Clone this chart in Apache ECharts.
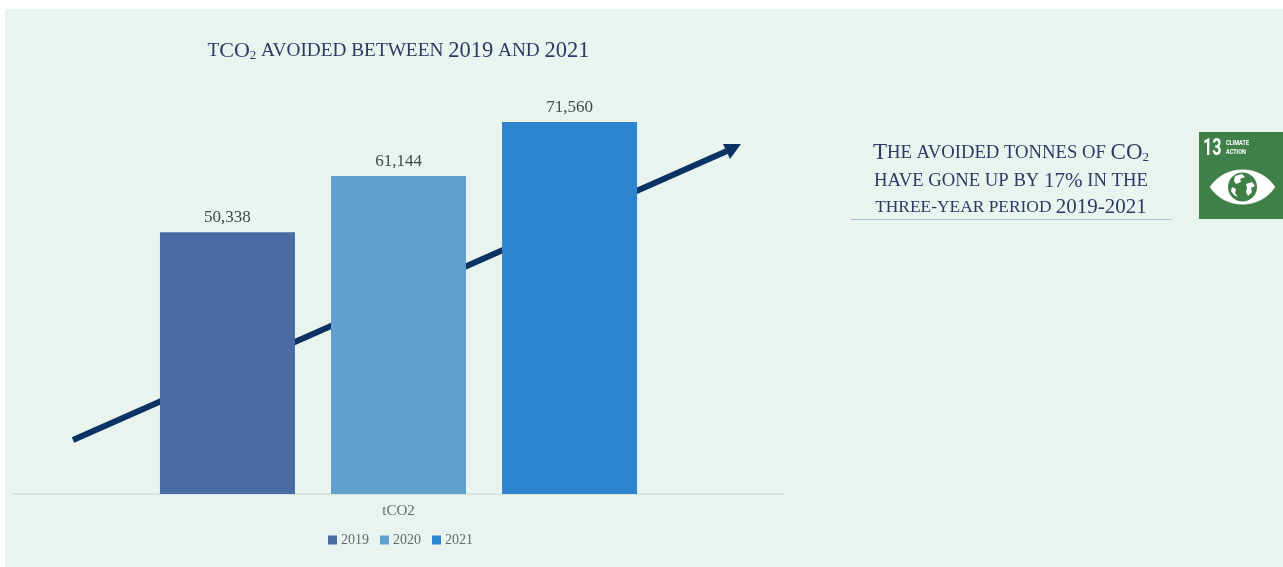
<!DOCTYPE html>
<html>
<head>
<meta charset="utf-8">
<title>tCO2 avoided between 2019 and 2021</title>
<script src="https://cdn.jsdelivr.net/npm/echarts@6/dist/echarts.min.js"></script>
<style>
  html, body { margin: 0; padding: 0; background: #ffffff; }
  #panel { position: absolute; left: 5px; top: 9px; width: 1278px; height: 558px; background: #eaf4ef; }
  #chart { position: absolute; left: 0; top: 0; width: 1283px; height: 567px; }
</style>
</head>
<body>
<div id="panel"></div>
<div id="chart"></div>
<script>
const categories = ['tCO2'];
const years = ['2019', '2020', '2021'];
const avoided2019 = [50338];
const avoided2020 = [61144];
const avoided2021 = [71560];
const yearValues = [avoided2019, avoided2020, avoided2021];
const yearColors = ['#4a6ca5', '#60a0cc', '#2e84cf'];

const serif = '"Liberation Serif", serif';
const narrow = '"Liberation Sans Narrow", Roboto, sans-serif';
const navy = '#2c3a63';

// Small-caps headings are composed of rich-text runs: b = full caps, s = small caps, d = digits, u = subscript
const smallCapsStyles = (big, small, digit, sub) => {
  const run = (size, extra) => Object.assign({
    fontFamily: serif, fontSize: size, fill: navy, color: navy, lineHeight: 28
  }, extra);
  return {
    b: run(big),
    s: run(small),
    d: run(digit),
    u: run(sub, { padding: [9, 0, 0, 0] })
  };
};

const titleText = '{s|T}{b|CO}{u|2}{s| AVOIDED BETWEEN }{d|2019}{s| AND }{d|2021}';
const noteLines = [
  '{b|T}{s|HE AVOIDED TONNES OF }{b|CO}{u|2}',
  '{s|HAVE GONE UP BY }{d|17%}{s| IN THE}',
  '{s|THREE-YEAR PERIOD }{d|2019-2021}'
];
const noteLineY = [153, 181, 207];
const noteSmallCaps = [18.7, 18.7, 17.4];

// Climate Action tile: the eye and globe are drawn relative to its top-left corner
const tile = { x: 1199, y: 132, w: 84, h: 87, fill: '#3f8048' };

const chart = echarts.init(document.getElementById('chart'), null, { renderer: 'canvas' });

chart.setOption({
  backgroundColor: 'transparent',
  animation: false,
  grid: { left: 13, top: 78, width: 771, height: 416, containLabel: false },
  legend: {
    data: years,
    left: 328,
    top: 533,
    padding: 0,
    itemWidth: 9,
    itemHeight: 9,
    itemGap: 11,
    icon: 'rect',
    textStyle: { fontFamily: serif, fontSize: 14, color: '#5f6b6b', padding: [1, 0, 0, -1] }
  },
  xAxis: {
    type: 'category',
    data: categories,
    axisTick: { show: false },
    axisLine: { lineStyle: { color: '#d3e0dd', width: 1.5 } },
    axisLabel: { fontFamily: serif, fontSize: 15, color: '#5f6b6b', margin: 10 }
  },
  yAxis: { type: 'value', min: 0, max: 80000, show: false, splitLine: { show: false } },
  series: years.map((year, i) => ({
    name: year,
    type: 'bar',
    data: yearValues[i],
    barWidth: 135,
    barGap: '26.7%',
    z: 3,
    itemStyle: { color: yearColors[i] },
    label: {
      show: true,
      position: 'top',
      distance: 6,
      fontFamily: serif,
      fontSize: 17,
      color: '#3f4a4a',
      formatter: p => p.value.toLocaleString('en-US')
    }
  })),
  graphic: [
    // Upward trend arrow, sitting behind the bars
    { type: 'line', z: 1, shape: { x1: 73, y1: 440, x2: 727, y2: 151 }, style: { stroke: '#0b3265', lineWidth: 6 } },
    { type: 'polygon', z: 1, shape: { points: [[741, 144], [723, 144], [730, 159]] }, style: { fill: '#0b3265' } },

    // Chart heading
    {
      type: 'text', z: 5, x: 398.5, y: 51,
      style: { text: titleText, align: 'center', verticalAlign: 'middle', rich: smallCapsStyles(22, 19.3, 22.5, 13) }
    },

    // Side note
    ...noteLines.map((line, i) => ({
      type: 'text', z: 5, x: 1011, y: noteLineY[i],
      style: { text: line, align: 'center', verticalAlign: 'middle', rich: smallCapsStyles(23, noteSmallCaps[i], 21, 13) }
    })),
    { type: 'line', z: 5, shape: { x1: 851, y1: 219.5, x2: 1172, y2: 219.5 }, style: { stroke: '#a9c3d6', lineWidth: 1 } },

    // Climate Action tile
    {
      type: 'group', x: tile.x, y: tile.y, z: 5,
      children: [
        { type: 'rect', shape: { x: 0, y: 0, width: tile.w, height: tile.h }, style: { fill: tile.fill } },
        { type: 'text', x: 4, y: 6, scaleX: 0.7, style: { text: '13', fontFamily: narrow, fontWeight: 'bold', fontSize: 23, fill: '#ffffff' } },
        { type: 'text', x: 27, y: 8, scaleX: 0.85, style: { text: 'CLIMATE', fontFamily: narrow, fontWeight: 'bold', fontSize: 6.5, fill: '#ffffff' } },
        { type: 'text', x: 27, y: 17, scaleX: 0.85, style: { text: 'ACTION', fontFamily: narrow, fontWeight: 'bold', fontSize: 6.5, fill: '#ffffff' } },
        // Eye outline as two filled curves
        { type: 'bezierCurve', shape: { x1: 11, y1: 55, cpx1: 26, cpy1: 32, cpx2: 61, cpy2: 32, x2: 76, y2: 55 }, style: { fill: '#ffffff', stroke: '#ffffff', lineWidth: 0.5 } },
        { type: 'bezierCurve', shape: { x1: 11, y1: 55, cpx1: 26, cpy1: 78, cpx2: 61, cpy2: 78, x2: 76, y2: 55 }, style: { fill: '#ffffff', stroke: '#ffffff', lineWidth: 0.5 } },
        { type: 'circle', shape: { cx: 43.5, cy: 55, r: 14.5 }, style: { fill: tile.fill } },
        // Landmasses on the globe
        { type: 'polygon', shape: { points: [[36, 44], [43, 42], [46, 45], [41, 47], [42, 50], [37, 52], [35, 49]] }, style: { fill: '#ffffff' } },
        { type: 'polygon', shape: { points: [[47, 52], [53, 50], [56, 54], [52, 56], [53, 60], [49, 64], [47, 60], [48, 56]] }, style: { fill: '#ffffff' } },
        { type: 'polygon', shape: { points: [[33, 55], [37, 57], [36, 61], [39, 65], [35, 63], [32, 59]] }, style: { fill: '#ffffff' } }
      ]
    }
  ]
});
</script>
</body>
</html>
